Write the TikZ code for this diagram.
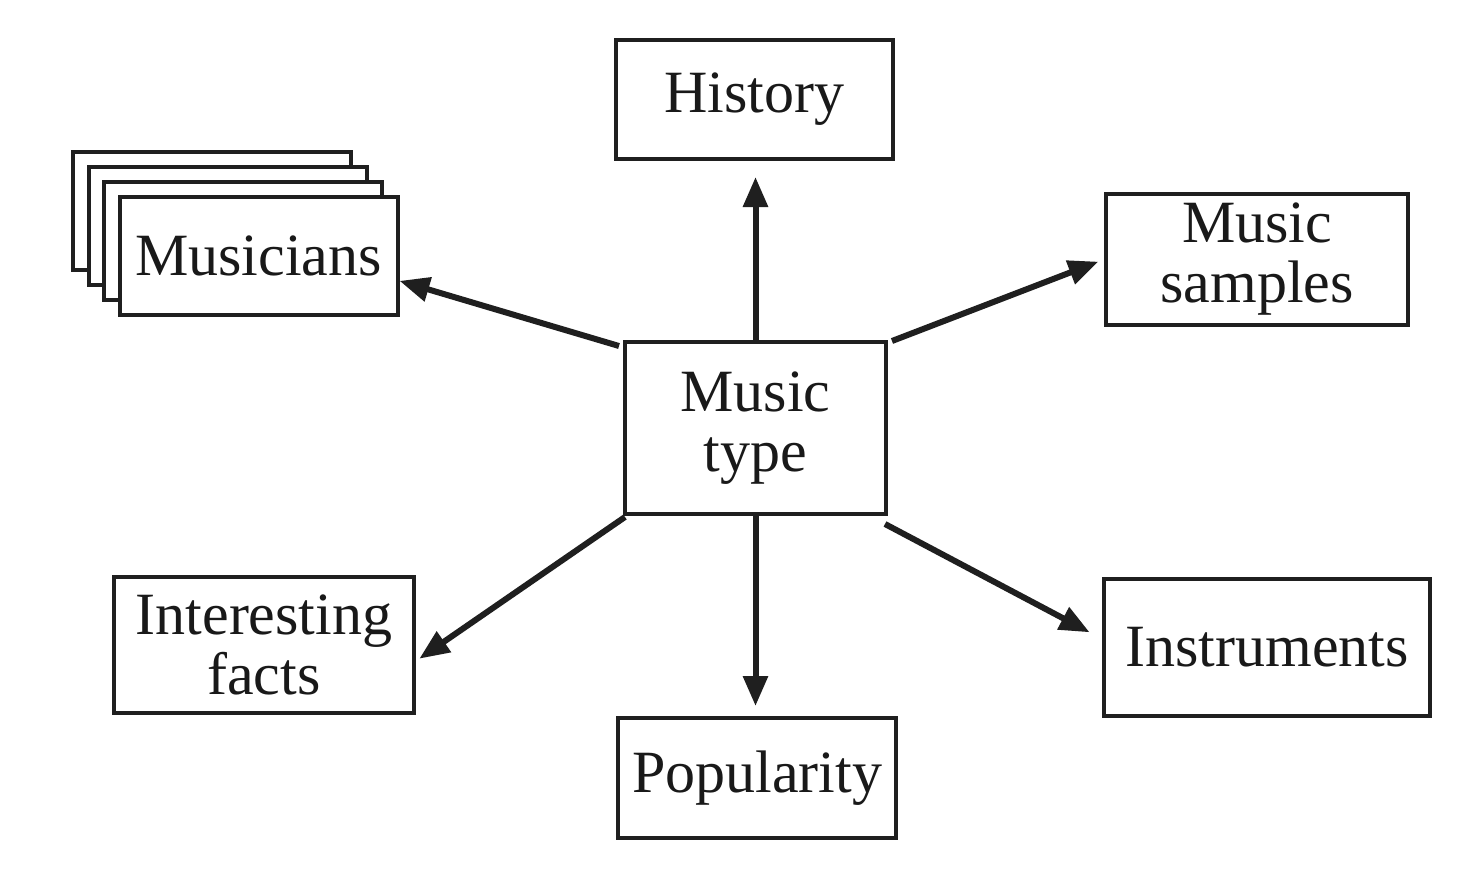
\documentclass[tikz,border=0pt]{standalone}
\usepackage{fontspec}
\setmainfont{Liberation Serif}
\usetikzlibrary{arrows.meta}
\begin{document}
\begin{tikzpicture}[x=0.5pt,y=-0.5pt,
  box/.style={draw=black!88, line width=2pt, fill=white, inner sep=0pt, align=center,
    font=\fontsize{30}{30}\selectfont, text=black!90},
  conn/.style={draw=black!88, line width=3pt, -{Triangle[length=15pt,width=12pt]}}]
\useasboundingbox (0,0) rectangle (1478,878);
% stacked Musicians cards
\node[box, minimum width=139pt, minimum height=59pt] (mus3) at (212,211) {};
\node[box, minimum width=139pt, minimum height=59pt] (mus2) at (228,226) {};
\node[box, minimum width=139pt, minimum height=59pt] (mus1) at (243,241) {};
\node[box, minimum width=139pt, minimum height=59pt] (mus) at (258.5,256) {Musicians};
% other boxes
\node[box, minimum width=138.5pt, minimum height=59.5pt] (hist) at (754.5,99.5) {History};
\node[box, minimum width=151pt, minimum height=65.5pt] (ms) at (1257,259.5) {Music\\samples};
\node[box, minimum width=130.5pt, minimum height=86pt] (mt) at (755.5,428) {Music\\type};
\node[box, minimum width=150pt, minimum height=68pt] (if) at (264,645) {Interesting\\facts};
\node[box, minimum width=139pt, minimum height=60pt] (pop) at (757,778) {Popularity};
\node[box, minimum width=163pt, minimum height=68.5pt] (ins) at (1267,647.5) {Instruments};
% connectors
\draw[conn, shorten >=8pt] (mt.north) -- (mt.north |- hist.south);
\draw[conn, shorten >=5pt] (mt.south) -- (mt.south |- pop.north);
\draw[conn] ([shift={(-4,6)}]mt.north west) -- (mus.-10);
\draw[conn, shorten >=3pt] ([shift={(4,1)}]mt.north east) -- (ms.west);
\draw[conn, shorten >=2pt] ([shift={(2,1)}]mt.south west) -- (if.-6);
\draw[conn, shorten >=7pt] ([shift={(-3,8)}]mt.south east) -- (ins.177);
\end{tikzpicture}
\end{document}
